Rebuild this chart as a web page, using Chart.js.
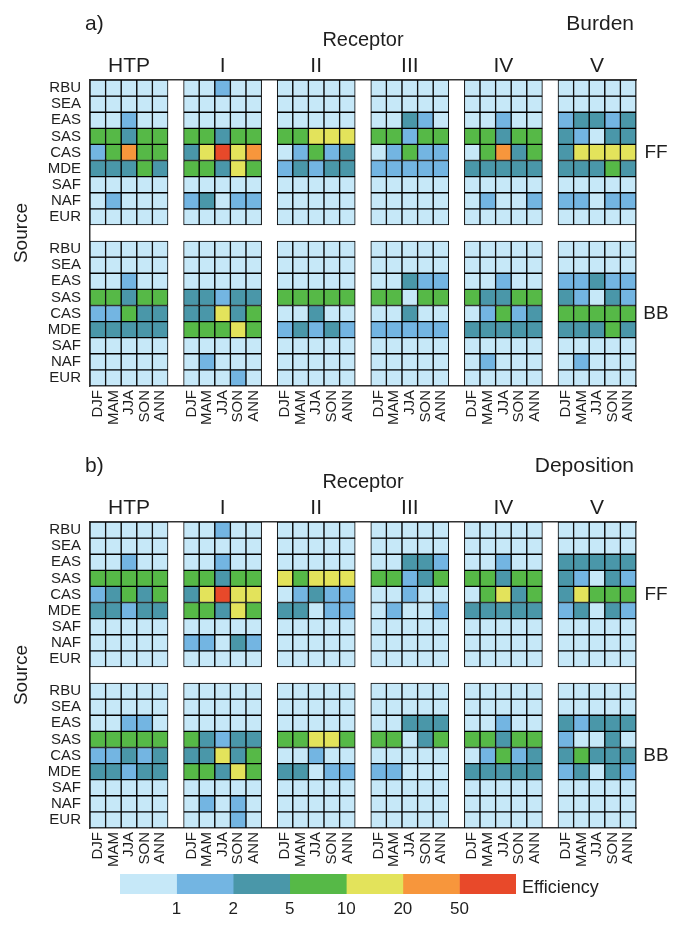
<!DOCTYPE html>
<html>
<head>
<meta charset="utf-8">
<script src="https://cdn.jsdelivr.net/npm/chart.js@4.4.0/dist/chart.umd.min.js"></script>
<style>
  body { margin: 0; background: #fff; width: 681px; height: 941px; overflow: hidden; position: relative; }
  .box { position: absolute; left: 0; width: 681px; }
</style>
</head>
<body>
<div class="box" style="top:0"><canvas id="burden" width="681" height="442"></canvas></div>
<div class="box" style="top:442px"><canvas id="deposition" width="681" height="442"></canvas></div>
<div class="box" style="top:862px"><canvas id="scale" width="681" height="79"></canvas></div>
<script>
// Categorías
const receptors = ['HTP', 'I', 'II', 'III', 'IV', 'V'];
const seasons = ['DJF', 'MAM', 'JJA', 'SON', 'ANN'];
const sources = ['RBU', 'SEA', 'EAS', 'SAS', 'CAS', 'MDE', 'SAF', 'NAF', 'EUR'];
const levelBounds = [1, 2, 5, 10, 20, 50];
const levelColors = ['#c6e8f8', '#73b5e2', '#4a97a9', '#56b947', '#e3e35b', '#f7963c', '#e8492a'];

// Clase de eficiencia por celda: 0 <1, 1 1-2, 2 2-5, 3 5-10, 4 10-20, 5 20-50, 6 >50
// Cada fila: receptores HTP | I | II | III | IV | V, cinco estaciones cada uno
const burdenFF = [
  '00000 00100 00000 00000 00000 00000', // RBU
  '00000 00000 00000 00000 00000 00000', // SEA
  '00100 00000 00000 00210 00100 12212', // EAS
  '33233 33233 33444 33133 33233 21022', // SAS
  '13533 24645 01312 01311 03523 24444', // CAS
  '22232 33243 12122 11111 22222 22232', // MDE
  '00000 00000 00000 00000 00000 00000', // SAF
  '01000 12011 00000 00000 01001 11011', // NAF
  '00000 00000 00000 00000 00000 00000'  // EUR
];
const burdenBB = [
  '00000 00000 00000 00000 00000 00000',
  '00000 00000 00000 00000 00000 00000',
  '00100 00000 00000 00211 00100 11211',
  '33233 22122 33333 33033 32233 21021',
  '11322 22423 00200 00200 01312 33333',
  '22222 33343 12121 11111 22222 22232',
  '00000 00000 00000 00000 00000 00000',
  '00000 01000 00000 00000 01000 01000',
  '00000 00010 00000 00000 00000 00000'
];
const depositionFF = [
  '00000 00100 00000 00000 00000 00000',
  '00000 00000 00000 00000 00000 00000',
  '00100 00100 00000 00221 00100 22222',
  '33333 33233 43444 33123 33233 21021',
  '12323 24644 01211 00100 03423 24333',
  '22122 33243 22011 01001 22222 12021',
  '00000 00000 00000 00000 00000 00000',
  '00000 11021 00000 00000 00000 00000',
  '00000 00000 00000 00000 00000 00000'
];
const depositionBB = [
  '00000 00000 00000 00000 00000 00000',
  '00000 00000 00000 00000 00000 00000',
  '00110 00000 00000 00222 00100 21222',
  '33333 32122 33443 33023 33233 10020',
  '11212 22423 00100 00000 01312 23222',
  '22122 33243 22011 11000 22222 12021',
  '00000 00000 00000 00000 00000 00000',
  '00000 01010 00000 00000 00000 00000',
  '00000 00010 00000 00000 00000 00000'
];

const FONT = "'Liberation Sans', Arial, sans-serif";
Chart.defaults.font.family = FONT;
Chart.defaults.color = '#1e1e1e';

// Etiquetas del eje x: 5 estaciones por receptor, con un hueco entre grupos
const xLabels = [];
receptors.forEach((r, g) => {
  seasons.forEach(s => xLabels.push(s));
  if (g < receptors.length - 1) xLabels.push('');
});
const isGap = i => i % 6 === 5;

const parseRows = rows => rows.map(s => s.replace(/ /g, '').split('').map(Number));

function makeHeatmap(id, letter, name, ffRows, bbRows) {
  const blocks = [parseRows(ffRows), parseRows(bbRows)];
  const datasets = [];
  blocks.forEach((rows, b) => {
    rows.forEach((row, r) => {
      const slot = b * 10 + r;
      datasets.push({
        label: (b ? 'BB ' : 'FF ') + sources[r],
        data: xLabels.map((l, i) => isGap(i) ? null : [slot, slot + 1]),
        backgroundColor: xLabels.map((l, i) => {
          if (isGap(i)) return 'rgba(0,0,0,0)';
          return levelColors[row[Math.floor(i / 6) * 5 + (i % 6)]];
        }),
        borderColor: '#000',
        borderWidth: 1,
        borderSkipped: false,
        barPercentage: 1,
        categoryPercentage: 1,
        grouped: false
      });
    });
  });

  const rowTicks = [];
  sources.forEach((s, r) => rowTicks.push(r + 0.5));
  sources.forEach((s, r) => rowTicks.push(r + 10.5));

  const labelsPlugin = {
    id: 'panelText',
    afterDraw(chart) {
      const ctx = chart.ctx;
      const y = chart.scales.y;
      ctx.save();
      ctx.fillStyle = '#1e1e1e';
      ctx.font = '21px ' + FONT;
      ctx.textBaseline = 'alphabetic';
      ctx.textAlign = 'left';
      ctx.fillText(letter, 85, 30);
      ctx.textAlign = 'right';
      ctx.fillText(name, 634, 30);
      ctx.font = '19px ' + FONT;
      ctx.textAlign = 'center';
      ctx.textBaseline = 'middle';
      ctx.fillText('FF', 656, y.getPixelForValue(4.5));
      ctx.fillText('BB', 656, y.getPixelForValue(14.5));
      ctx.restore();
    }
  };

  return new Chart(document.getElementById(id), {
    type: 'bar',
    data: { labels: xLabels, datasets: datasets },
    options: {
      responsive: false,
      animation: false,
      events: [],
      layout: { padding: 0 },
      plugins: { legend: { display: false }, tooltip: { enabled: false } },
      scales: {
        x: {
          type: 'category',
          offset: true,
          grid: { display: false, drawTicks: false },
          border: { display: true, color: '#333', width: 1.5 },
          ticks: { autoSkip: false, minRotation: 90, maxRotation: 90, padding: 4, font: { size: 15 } },
          afterFit: s => { s.height = 56; }
        },
        x2: {
          type: 'category',
          position: 'top',
          offset: true,
          labels: xLabels,
          grid: { display: false, drawTicks: false },
          border: { display: true, color: '#333', width: 1.5 },
          ticks: {
            autoSkip: false, maxRotation: 0, padding: 1, font: { size: 21 },
            callback: (v, i) => i % 6 === 2 ? receptors[Math.floor(i / 6)] : ''
          },
          title: { display: true, text: 'Receptor', font: { size: 20 }, padding: { top: 28, bottom: 0 } },
          afterFit: s => { s.height = 80; }
        },
        y: {
          type: 'linear',
          min: 0,
          max: 19,
          reverse: true,
          grid: { display: false, drawTicks: false },
          border: { display: true, color: '#333', width: 1.5 },
          afterBuildTicks: s => { s.ticks = rowTicks.map(v => ({ value: v })); },
          ticks: {
            autoSkip: false, padding: 9, font: { size: 15 },
            callback: v => { const k = Math.floor(v); return sources[k < 10 ? k : k - 10]; }
          },
          title: { display: true, text: 'Source', font: { size: 19 }, padding: { top: 10, bottom: 0 } },
          afterFit: s => { s.width = 90; }
        },
        y2: {
          type: 'linear',
          position: 'right',
          min: 0,
          max: 19,
          grid: { display: false, drawTicks: false },
          border: { display: true, color: '#333', width: 1.5 },
          ticks: { display: false },
          afterFit: s => { s.width = 45; }
        }
      }
    },
    plugins: [labelsPlugin]
  });
}

makeHeatmap('burden', 'a)', 'Burden', burdenFF, burdenBB);
makeHeatmap('deposition', 'b)', 'Deposition', depositionFF, depositionBB);

// Barra de colores
new Chart(document.getElementById('scale'), {
  type: 'bar',
  data: {
    labels: ['Efficiency'],
    datasets: levelColors.map((c, i) => ({
      label: 'class ' + i,
      data: [1],
      backgroundColor: c,
      borderWidth: 0,
      barPercentage: 1,
      categoryPercentage: 1
    }))
  },
  options: {
    indexAxis: 'y',
    responsive: false,
    animation: false,
    events: [],
    layout: { padding: { left: 120, right: 165, top: 12, bottom: 0 } },
    plugins: { legend: { display: false }, tooltip: { enabled: false } },
    scales: {
      y: { stacked: true, display: false },
      x: {
        stacked: true,
        type: 'linear',
        min: 0,
        max: 7,
        grid: { display: false, drawTicks: false },
        border: { display: false },
        ticks: {
          stepSize: 1, padding: 5, font: { size: 17 },
          callback: v => (v >= 1 && v <= 6) ? String(levelBounds[v - 1]) : ''
        },
        afterFit: s => { s.height = 47; }
      }
    }
  },
  plugins: [{
    id: 'scaleTitle',
    afterDraw(chart) {
      const ctx = chart.ctx;
      ctx.save();
      ctx.fillStyle = '#1e1e1e';
      ctx.font = '18px ' + FONT;
      ctx.textAlign = 'left';
      ctx.textBaseline = 'middle';
      ctx.fillText('Efficiency', 522, 26);
      ctx.restore();
    }
  }]
});
</script>
</body>
</html>
